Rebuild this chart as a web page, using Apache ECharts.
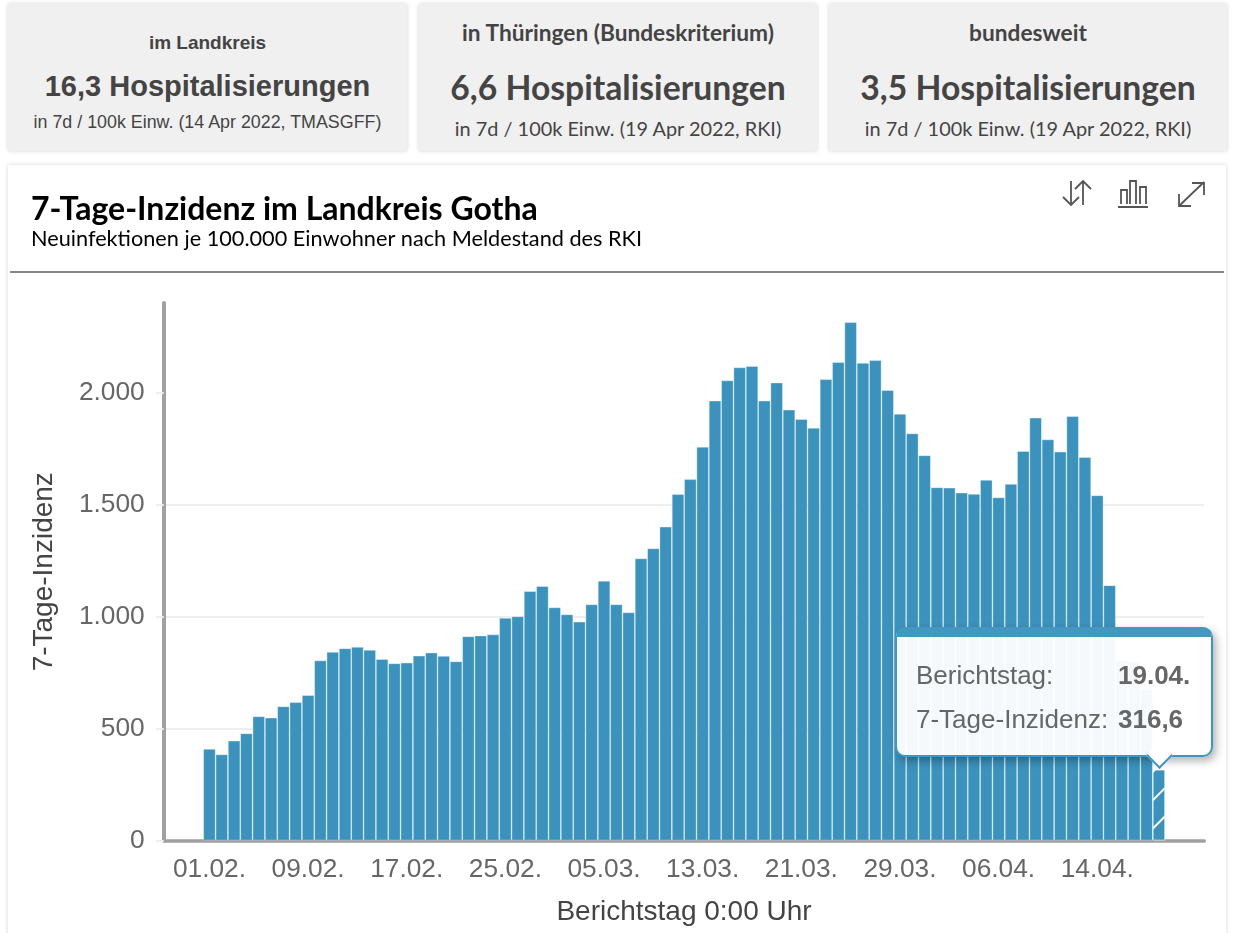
<!DOCTYPE html>
<html lang="de">
<head>
<meta charset="utf-8">
<title>7-Tage-Inzidenz im Landkreis Gotha</title>
<script src="https://cdn.jsdelivr.net/npm/echarts@6/dist/echarts.min.js"></script>
<style>
html,body{margin:0;padding:0;width:1239px;height:933px;overflow:hidden;background:#fff}
.card{position:absolute;top:4px;height:147px;background:#f0f0f0;box-shadow:0 0 4px rgba(0,0,0,.18);color:#444;text-align:center;box-sizing:border-box}
.card div{position:absolute;left:0;right:0;white-space:nowrap;line-height:1}
.a{font-family:"Liberation Sans",Arial,sans-serif}
.l{font-family:Lato,sans-serif}
#panel{position:absolute;left:8px;top:165px;width:1218px;height:800px;background:#fff;box-shadow:0 0 4px rgba(0,0,0,.18)}
#rule{position:absolute;left:10px;top:271px;width:1214px;height:2px;background:#888}
#icons{position:absolute;left:0;top:0}
#chart{position:absolute;left:0;top:0;width:1239px;height:933px}
</style>
</head>
<body>
<div class="card a" style="left:8px;width:399px">
  <div style="top:29px;font-size:19px;font-weight:700">im Landkreis</div>
  <div style="top:68px;font-size:29px;font-weight:700">16,3 Hospitalisierungen</div>
  <div style="top:110px;font-size:17.85px">in 7d / 100k Einw. (14 Apr 2022, TMASGFF)</div>
</div>
<div class="card l" style="left:419px;width:398px">
  <div style="top:18px;font-size:22.7px;font-weight:700">in Thüringen (Bundeskriterium)</div>
  <div style="top:67px;font-size:33.7px;font-weight:700">6,6 Hospitalisierungen</div>
  <div style="top:115px;font-size:19.9px">in 7d / 100k Einw. (19 Apr 2022, RKI)</div>
</div>
<div class="card l" style="left:829px;width:398px">
  <div style="top:18px;font-size:22.7px;font-weight:700">bundesweit</div>
  <div style="top:67px;font-size:33.7px;font-weight:700">3,5 Hospitalisierungen</div>
  <div style="top:115px;font-size:19.9px">in 7d / 100k Einw. (19 Apr 2022, RKI)</div>
</div>
<div id="panel"></div>
<div id="rule"></div>
<svg id="icons" width="1239" height="240" fill="none" stroke="#555" stroke-width="1.8">
  <path d="M1071 181V205M1063 197L1071 205L1079 197M1083 205V181M1075 189L1083 181L1091 189"/>
  <path d="M1118 207H1148M1121 204V190H1127V204M1130 204V181H1136V204M1140 204V187H1146V204"/>
  <path d="M1179 206L1204 182M1192 183H1204V195M1179 194V206H1191"/>
</svg>
<div id="chart"></div>
<script>
const dateLabels = ['01.02.','02.02.','03.02.','04.02.','05.02.','06.02.','07.02.','08.02.','09.02.','10.02.','11.02.','12.02.','13.02.','14.02.','15.02.','16.02.','17.02.','18.02.','19.02.','20.02.','21.02.','22.02.','23.02.','24.02.','25.02.','26.02.','27.02.','28.02.',
'01.03.','02.03.','03.03.','04.03.','05.03.','06.03.','07.03.','08.03.','09.03.','10.03.','11.03.','12.03.','13.03.','14.03.','15.03.','16.03.','17.03.','18.03.','19.03.','20.03.','21.03.','22.03.','23.03.','24.03.','25.03.','26.03.','27.03.','28.03.','29.03.','30.03.','31.03.',
'01.04.','02.04.','03.04.','04.04.','05.04.','06.04.','07.04.','08.04.','09.04.','10.04.','11.04.','12.04.','13.04.','14.04.','15.04.','16.04.','17.04.','18.04.','19.04.'];
const incidence = [409,385,446,479,555,549,600,618,650,805,843,859,865,852,811,792,795,826,840,825,801,913,916,921,995,1002,1115,1137,
1042,1011,978,1056,1161,1056,1020,1261,1306,1403,1548,1615,1760,1966,2057,2115,2121,1966,2047,1926,1884,1845,2062,2138,2317,2135,2147,2013,1907,1820,1722,1579,
1577,1555,1549,1612,1534,1594,1741,1890,1793,1738,1897,1714,1543,1141,804,800,677,316.6];
const labelledDays = [0,8,16,24,32,40,48,56,64,72];
const yTicks = [0,500,1000,1500,2000];

const BLUE = '#3a92bd';
const fmtThousand = v => String(v).replace(/\B(?=(\d{3})+$)/g, '.');
const fmtDecimal = v => String(v).replace('.', ',');
const seriesData = incidence.map((v, i) => {
  const d = {value: [i, v]};
  if (i === incidence.length - 1) {
    d.itemStyle = {decal: {symbol: 'rect', symbolSize: 1, color: '#fff', dashArrayX: [1, 0], dashArrayY: [2, 18], rotation: -Math.PI / 4}};
  }
  return d;
});

const chart = echarts.init(document.getElementById('chart'), null, {renderer: 'canvas', backgroundColor: 'transparent'});
chart.setOption({
  animation: false,
  backgroundColor: 'transparent',
  title: {
    left: 31, top: 194, padding: 0, itemGap: 2,
    text: '7-Tage-Inzidenz im Landkreis Gotha',
    subtext: 'Neuinfektionen je 100.000 Einwohner nach Meldestand des RKI',
    textStyle: {fontFamily: 'Lato', fontWeight: 700, fontSize: 32, color: '#000'},
    subtextStyle: {fontFamily: 'Lato', fontSize: 21.7, color: '#000'}
  },
  grid: {left: 163.7, width: 1040.6, top: 303, height: 537.5, outerBoundsMode: 'none'},
  xAxis: {
    type: 'value', min: -3.71, max: 80.68,
    name: 'Berichtstag 0:00 Uhr', nameLocation: 'middle', nameGap: 58,
    nameTextStyle: {fontFamily: 'Liberation Sans', fontSize: 28, color: '#444'},
    axisLine: {show: true, onZero: true, lineStyle: {color: '#a0a0a0', width: 3.5}},
    axisTick: {show: false},
    splitLine: {show: false},
    axisLabel: {
      customValues: labelledDays, margin: 16,
      fontFamily: 'Liberation Sans', fontSize: 26.3, color: '#666',
      formatter: v => dateLabels[v]
    }
  },
  yAxis: {
    type: 'value', min: 0, max: 2403, interval: 500,
    name: '7-Tage-Inzidenz', nameLocation: 'middle', nameGap: 105,
    nameTextStyle: {fontFamily: 'Liberation Sans', fontSize: 28, color: '#444'},
    axisLine: {show: true, onZero: false, lineStyle: {color: '#a0a0a0', width: 4}},
    axisTick: {show: true, length: 8, customValues: yTicks, lineStyle: {color: '#eee', width: 2}},
    splitLine: {show: true, showMaxLine: false, lineStyle: {color: '#eee', width: 2}},
    axisLabel: {
      customValues: yTicks, margin: 19, padding: [6, 0, 0, 0],
      fontFamily: 'Liberation Sans', fontSize: 26.3, color: '#666',
      formatter: fmtThousand
    }
  },
  tooltip: {
    trigger: 'item', alwaysShowContent: true, showDelay: 0, transitionDuration: 0,
    padding: 0, borderWidth: 0, backgroundColor: 'transparent',
    extraCssText: 'box-shadow:none;',
    position: () => [895, 627],
    formatter: p => {
      const i = p.value[0], v = p.value[1];
      const f = 'font-family:Liberation Sans,Arial,sans-serif;font-size:26px;color:#666;position:absolute;line-height:1;white-space:nowrap;';
      return '<div style="position:relative;width:318px;height:130px;box-sizing:border-box;background:rgba(255,255,255,.95);border:2px solid #4094bf;border-top:10px solid rgba(58,146,189,.95);border-radius:10px;box-shadow:3px 4px 8px rgba(0,0,0,.3);">'
        + '<div style="' + f + 'left:19px;top:25px">Berichtstag:</div>'
        + '<div style="' + f + 'left:221px;top:25px;font-weight:700">' + dateLabels[i] + '</div>'
        + '<div style="' + f + 'left:19px;top:69px">7-Tage-Inzidenz:</div>'
        + '<div style="' + f + 'left:221px;top:69px;font-weight:700">' + fmtDecimal(v) + '</div>'
        + '<div style="position:absolute;left:253px;top:109px;width:17px;height:17px;background:#fff;border-right:2px solid #4094bf;border-bottom:2px solid #4094bf;transform:rotate(45deg)"></div>'
        + '</div>';
    }
  },
  series: [{
    type: 'bar', name: '7-Tage-Inzidenz',
    barWidth: '100%', barGap: 0, large: false,
    itemStyle: {color: BLUE, borderColor: 'rgba(255,255,255,.5)', borderWidth: 0.7},
    emphasis: {disabled: true},
    data: seriesData
  }]
});
chart.dispatchAction({type: 'showTip', seriesIndex: 0, dataIndex: incidence.length - 1});
</script>
</body>
</html>
